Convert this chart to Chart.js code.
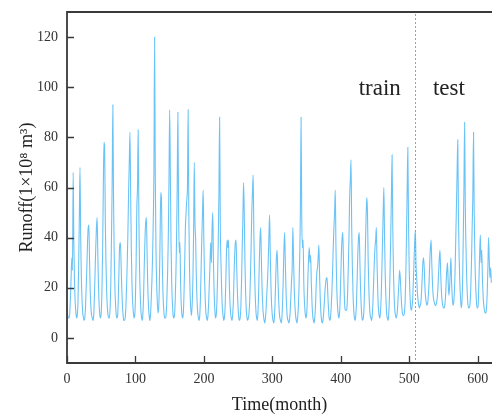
<!DOCTYPE html>
<html>
<head>
<meta charset="utf-8">
<script src="https://cdn.jsdelivr.net/npm/chart.js@4.4.0/dist/chart.umd.min.js"></script>
<style>
html, body { margin: 0; padding: 0; background: #fff; }
#wrap { width: 492px; height: 414px; }
</style>
</head>
<body>
<div id="wrap"><canvas id="chartcanvas" width="492" height="414"></canvas></div>
<script>
// monthly runoff, months 0..507 (train)
var runoffTrain = [
	12,9,8,8,10,16,24,32,27,66,38,22,
	14,10,8,9,14,28,48,68,40,24,15,10,
	8,7,8,12,20,28,38,44,45,30,18,12,
	9,8,7,9,16,26,36,44,48,34,21,13,
	9,8,10,18,34,58,78,76,46,29,18,12,
	9,8,8,12,22,40,62,93,55,33,20,13,
	9,8,9,16,28,37,38,30,20,13,9,7,
	7,8,12,20,30,42,58,70,82,58,35,21,
	14,10,8,9,16,30,52,60,83,48,28,17,
	11,8,7,10,18,30,40,46,48,34,21,13,
	9,7,9,15,22,32,46,66,120,64,36,22,
	14,10,12,22,40,58,56,34,20,13,9,8,
	8,10,16,26,40,62,91,66,38,22,14,9,
	8,9,14,24,38,60,90,52,34,38,22,13,
	9,8,10,18,30,44,50,55,60,91,50,28,
	17,11,9,14,24,42,70,46,39,24,15,10,
	8,7,9,16,28,40,50,59,38,24,15,10,
	8,7,9,14,22,30,38,30,44,50,30,18,
	11,8,9,14,24,38,58,88,45,30,19,12,
	9,7,8,12,22,34,39,36,39,24,15,10,
	8,7,9,14,24,33,38,39,28,18,12,8,
	7,8,12,22,36,48,62,50,30,18,11,8,
	7,8,10,15,24,36,50,58,65,42,27,17,
	11,8,7,10,18,30,40,44,32,20,13,9,
	7,6,8,12,18,23,30,40,49,34,21,13,
	9,7,6,8,14,24,32,35,26,17,11,8,
	7,6,8,14,24,36,42,30,19,12,8,7,
	6,7,10,16,22,28,44,32,20,13,9,7,
	6,8,12,20,32,50,88,48,36,39,22,14,
	10,8,9,14,24,32,36,30,33,22,14,9,
	7,6,8,12,20,26,28,32,37,26,16,10,
	7,6,7,10,14,19,22,24,24,18,12,8,
	7,8,12,18,26,36,44,50,59,36,22,14,
	10,8,9,14,24,34,40,42,30,19,12,11,
	11,12,18,28,40,56,63,71,44,28,17,11,
	8,7,9,14,24,34,40,42,30,19,12,8,
	7,8,12,22,36,48,56,51,32,20,13,9,
	8,7,9,14,22,30,36,39,44,30,19,12,
	9,8,10,16,26,38,50,60,40,25,16,10,
	8,7,9,15,26,40,56,73,44,27,17,11,
	9,8,9,12,17,22,27,24,18,13,10,9,
	9,10,14,24,40,58,76,46,28,18,13,11,
	12,15,22,30
];
// months 508..620 (test)
var runoffTest = [
	38,43,29,24,18,15,13,12,
	13,14,18,24,30,32,28,20,16,14,13,14,
	17,22,30,36,39,30,22,17,15,14,13,13,
	14,16,20,26,32,35,26,19,15,13,12,12,
	13,16,22,27,30,22,17,20,26,32,22,16,
	13,14,18,26,39,52,66,79,48,32,22,16,
	12,14,22,40,60,86,52,36,24,17,13,12,
	12,14,20,30,44,57,82,50,32,22,16,12,
	12,14,24,34,41,30,35,24,17,13,11,10,
	10,12,18,28,40,31,24,28,22
];
var xTicks = [0,100,200,300,400,500,600];
var yTicks = [0,20,40,60,80,100,120];
var phaseNames = ["train","test"];
var splitMonth = runoffTrain.length;

var runoff = runoffTrain.concat(runoffTest);
var points = runoff.map(function(v, i){ return {x: i, y: v}; });

var serif = '"Liberation Serif", "Times New Roman", serif';

var framePlugin = {
	id: 'frame',
	afterDraw: function(chart){
		var ctx = chart.ctx, a = chart.chartArea;
		var xs = chart.scales.x, ys = chart.scales.y;
		ctx.save();
		// train/test split
		var sx = Math.round(xs.getPixelForValue(splitMonth)) + 0.5;
		ctx.strokeStyle = '#a0a0a0';
		ctx.lineWidth = 1;
		ctx.setLineDash([2,2]);
		ctx.beginPath(); ctx.moveTo(sx, a.top + 2); ctx.lineTo(sx, a.bottom); ctx.stroke();
		ctx.setLineDash([]);
		// axes + top frame
		ctx.strokeStyle = '#3a3a3a';
		ctx.lineWidth = 1.8;
		ctx.beginPath();
		ctx.moveTo(a.right, a.top); ctx.lineTo(a.left, a.top);
		ctx.lineTo(a.left, a.bottom); ctx.lineTo(a.right, a.bottom);
		ctx.stroke();
		// inward ticks
		ctx.lineWidth = 1.3;
		ctx.beginPath();
		xTicks.forEach(function(t){
			var px = Math.round(xs.getPixelForValue(t)) + 0.5;
			ctx.moveTo(px, a.bottom); ctx.lineTo(px, a.bottom - 7);
		});
		yTicks.forEach(function(t){
			var py = Math.round(ys.getPixelForValue(t)) + 0.5;
			ctx.moveTo(a.left, py); ctx.lineTo(a.left + 7, py);
		});
		ctx.stroke();
		// phase labels
		ctx.fillStyle = '#222';
		ctx.font = '23px ' + serif;
		ctx.textAlign = 'center';
		ctx.textBaseline = 'middle';
		ctx.fillText(phaseNames[0], xs.getPixelForValue(457), ys.getPixelForValue(99.5));
		ctx.fillText(phaseNames[1], xs.getPixelForValue(558), ys.getPixelForValue(99.5));
		ctx.restore();
	}
};

var ctx = document.getElementById("chartcanvas").getContext("2d");
var myChart = new Chart(ctx, {
	type: 'line',
	data: {
		datasets: [{
			data: points,
			borderColor: 'rgba(80,185,245,0.85)',
			borderWidth: 1.1,
			pointRadius: 0,
			fill: false,
			cubicInterpolationMode: 'monotone'
		}]
	},
	options: {
		responsive: false,
		animation: false,
		devicePixelRatio: 1,
		layout: { padding: { top: 12, right: 0, left: 0, bottom: 0 } },
		plugins: { legend: { display: false }, tooltip: { enabled: false } },
		scales: {
			x: {
				type: 'linear',
				min: 0, max: 621,
				afterBuildTicks: function(s){ s.ticks = xTicks.map(function(v){ return {value: v}; }); },
				afterFit: function(s){ s.height = 51; s.paddingLeft = 0; s.paddingRight = 0; },
				grid: { display: false, drawTicks: false },
				border: { display: false },
				ticks: { color: '#333', font: { family: serif, size: 14 }, padding: 8, maxRotation: 0, autoSkip: false },
				title: { display: true, text: 'Time(month)', color: '#222', font: { family: serif, size: 18, lineHeight: 1 }, padding: 0 }
			},
			y: {
				min: -10, max: 130,
				afterBuildTicks: function(s){ s.ticks = yTicks.map(function(v){ return {value: v}; }); },
				afterFit: function(s){ s.width = 67; s.paddingTop = 0; s.paddingBottom = 0; },
				grid: { display: false, drawTicks: false },
				border: { display: false },
				ticks: { color: '#333', font: { family: serif, size: 14 }, padding: 9 },
				title: { display: true, text: 'Runoff(1×10⁸ m³)', color: '#222', font: { family: serif, size: 18, lineHeight: 1.2 }, padding: { top: 16, bottom: 0 } }
			}
		}
	},
	plugins: [framePlugin]
});
</script>
</body>
</html>
